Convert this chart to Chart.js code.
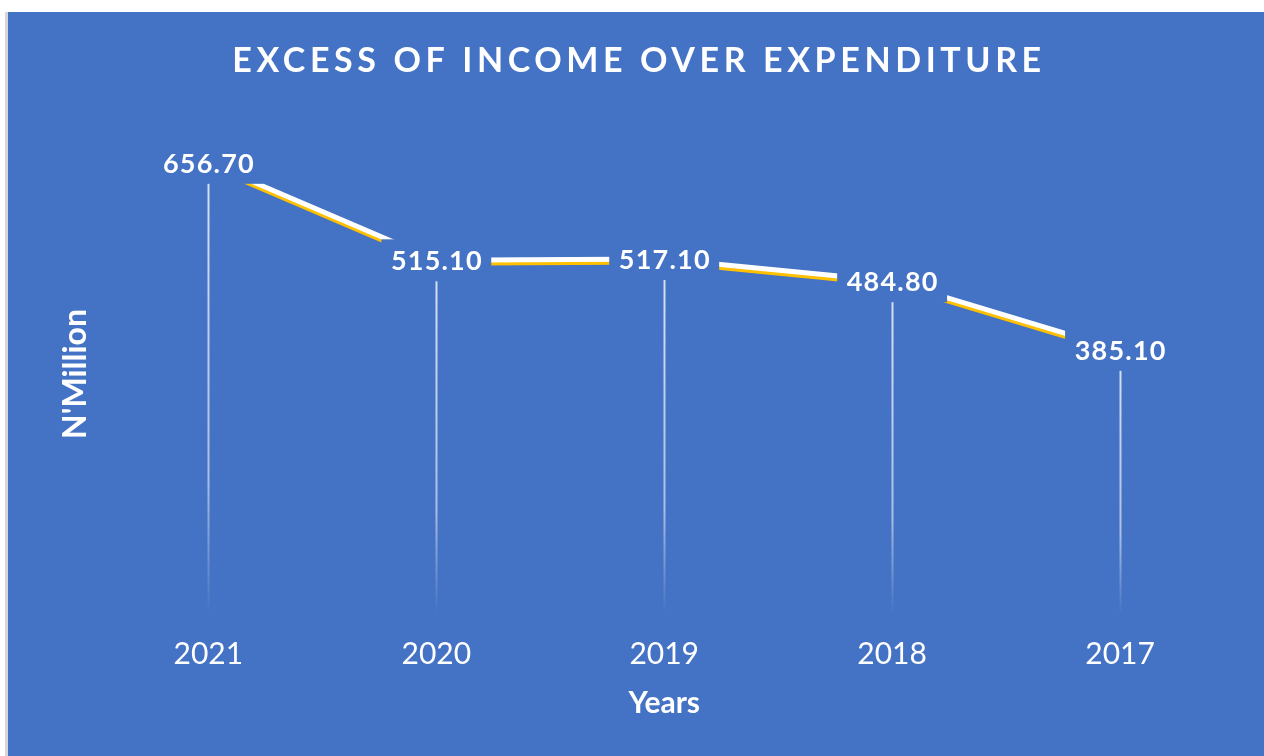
<!DOCTYPE html>
<html>
<head>
<meta charset="utf-8">
<title>Excess of income over expenditure</title>
<script src="https://cdn.jsdelivr.net/npm/chart.js@4"></script>
<style>
  html, body {
    margin: 0;
    padding: 0;
    background: #ffffff;
    width: 1264px;
    height: 756px;
    overflow: hidden;
  }
  #frame {
    position: absolute;
    left: 5px;
    top: 12px;
    width: 1256px;
    height: 744px;
    border-left: 3px solid #d6d6d6;
    background: #4472c4;
  }
</style>
</head>
<body>
<div id="frame">
  <canvas id="chart-surplus" width="1256" height="744"></canvas>
</div>
<script>
// Data
const years = ["2021", "2020", "2019", "2018", "2017"];
const surplus = [656.7, 515.1, 517.1, 484.8, 385.1];
const chartTitle = "EXCESS OF INCOME OVER EXPENDITURE";
const yTitle = "N'Million";
const xTitle = "Years";

const BG = "#4472c4";
const FONT = "Lato, 'Open Sans', sans-serif";

// white drop lines from each point down to the floor, fading out
const dropLines = {
  id: "dropLines",
  beforeDatasetsDraw(chart) {
    const { ctx, chartArea } = chart;
    const meta = chart.getDatasetMeta(0);
    ctx.save();
    meta.data.forEach((pt) => {
      const grad = ctx.createLinearGradient(0, pt.y, 0, chartArea.bottom);
      grad.addColorStop(0, "rgba(255,255,255,0.8)");
      grad.addColorStop(0.7, "rgba(255,255,255,0.55)");
      grad.addColorStop(1, "rgba(255,255,255,0)");
      ctx.strokeStyle = grad;
      ctx.lineWidth = 2;
      ctx.beginPath();
      ctx.moveTo(Math.round(pt.x) + 0.5, pt.y);
      ctx.lineTo(Math.round(pt.x) + 0.5, chartArea.bottom);
      ctx.stroke();
    });
    ctx.restore();
  },
};

// gold shadow under the white line
const lineShadow = {
  id: "lineShadow",
  beforeDatasetDraw(chart) {
    const ctx = chart.ctx;
    ctx.save();
    ctx.shadowColor = "#ffc000";
    ctx.shadowOffsetX = 0;
    ctx.shadowOffsetY = 3;
    ctx.shadowBlur = 0;
  },
  afterDatasetDraw(chart) {
    chart.ctx.restore();
  },
};

// value labels centred on the points, boxed in the background colour
const valueLabels = {
  id: "valueLabels",
  afterDatasetsDraw(chart) {
    const { ctx } = chart;
    const meta = chart.getDatasetMeta(0);
    const data = chart.data.datasets[0].data;
    ctx.save();
    ctx.font = "bold 27px " + FONT;
    ctx.letterSpacing = "1.2px";
    ctx.textAlign = "center";
    ctx.textBaseline = "middle";
    meta.data.forEach((pt, i) => {
      const label = data[i].toFixed(2);
      const w = ctx.measureText(label).width;
      ctx.fillStyle = BG;
      ctx.fillRect(pt.x - w / 2 - 9, pt.y - 21, w + 18, 42);
      ctx.fillStyle = "#ffffff";
      ctx.fillText(label, pt.x + 0.6, pt.y + 1);
    });
    ctx.restore();
  },
};

// spaced-out chart title
const spacedTitle = {
  id: "spacedTitle",
  afterDraw(chart) {
    const { ctx, width } = chart;
    ctx.save();
    ctx.font = "bold 34px " + FONT;
    ctx.letterSpacing = "4.6px";
    ctx.fillStyle = "#ffffff";
    ctx.textAlign = "center";
    ctx.textBaseline = "middle";
    ctx.fillText(chartTitle, width / 2 + 3, 49);
    ctx.restore();
  },
};

const ctx = document.getElementById("chart-surplus").getContext("2d");

new Chart(ctx, {
  type: "line",
  data: {
    labels: years,
    datasets: [
      {
        label: "Excess of income over expenditure",
        data: surplus,
        borderColor: "#ffffff",
        borderWidth: 5,
        pointRadius: 0,
        tension: 0,
      },
    ],
  },
  options: {
    responsive: false,
    animation: false,
    layout: {
      padding: { top: 121, left: 44, right: 30, bottom: 35 },
    },
    plugins: {
      legend: { display: false },
      tooltip: { enabled: false },
      title: { display: false },
    },
    scales: {
      x: {
        offset: true,
        grid: { display: false, drawTicks: false },
        border: { display: false },
        ticks: {
          color: "#ffffff",
          padding: 21,
          font: { family: FONT, size: 30 },
        },
        title: {
          display: true,
          text: xTitle,
          color: "#ffffff",
          padding: { top: -8, bottom: 0 },
          font: { family: FONT, size: 30, weight: "bold" },
        },
      },
      y: {
        min: 0,
        max: 700,
        grid: { display: false, drawTicks: false },
        border: { display: false },
        ticks: { display: false },
        title: {
          display: true,
          text: yTitle,
          color: "#ffffff",
          padding: { top: 4, bottom: 0 },
          font: { family: FONT, size: 32, weight: "bold" },
        },
      },
    },
  },
  plugins: [dropLines, lineShadow, valueLabels, spacedTitle],
});
</script>
</body>
</html>
